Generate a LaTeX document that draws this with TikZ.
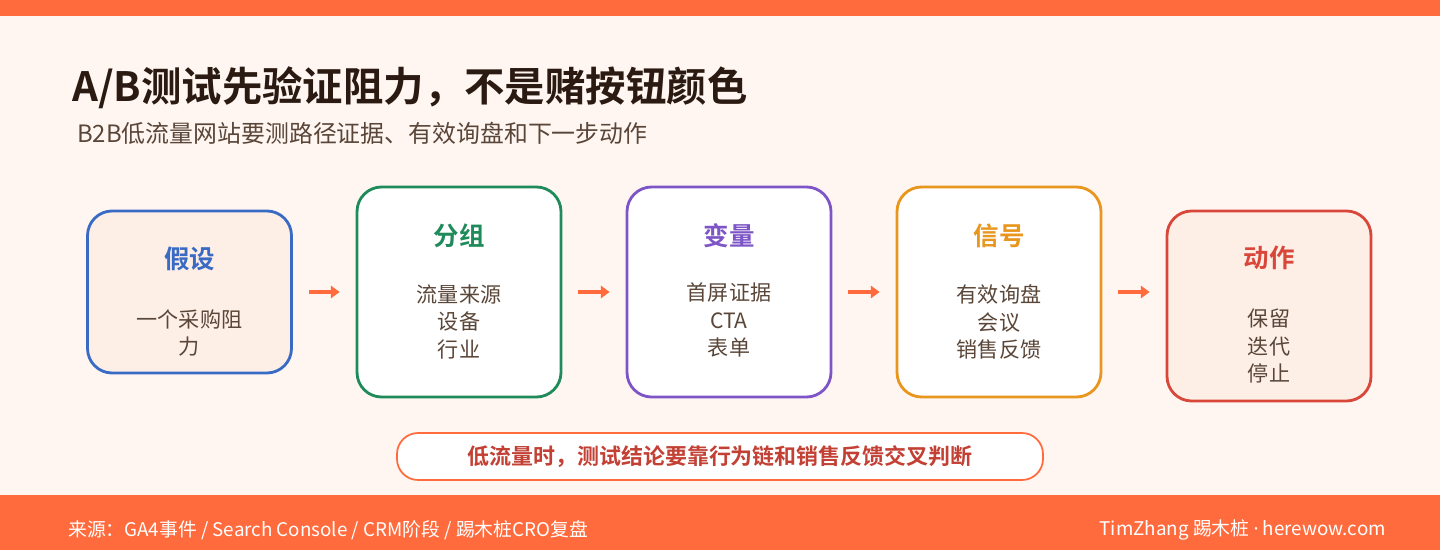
\documentclass[tikz,border=0pt]{standalone}
\usepackage{fontspec}
\setmainfont{Noto Sans CJK SC}[BoldFont={Noto Sans CJK SC Bold}]
\newfontfamily\latinfont{Noto Sans}
\usetikzlibrary{arrows.meta, positioning}
\definecolor{accent}{HTML}{FF6B3D}
\definecolor{paper}{HTML}{FFF6F2}
\definecolor{ink}{HTML}{2A1A12}
\definecolor{subink}{HTML}{5A4638}
\definecolor{cblue}{HTML}{3A6BC4}
\definecolor{cgreen}{HTML}{1F8A5A}
\definecolor{cpurple}{HTML}{7D55C7}
\definecolor{corange}{HTML}{E8961E}
\definecolor{cred}{HTML}{D9473A}
\definecolor{peach}{HTML}{FDEEE6}
\tikzset{
  stage/.style={draw=#1, line width=1.6pt, rounded corners=14pt, fill=white,
    minimum width=204*0.02cm, minimum height=210*0.02cm},
  head/.style={font=\bfseries\fontsize{14.5}{17}\selectfont, text=#1},
  body/.style={font=\fontsize{12}{15.5}\selectfont, text=subink, align=center},
  flow/.style={-{Triangle[length=5pt,width=7pt]}, accent, line width=2.2pt}
}
\begin{document}
\begin{tikzpicture}[x=0.02cm, y=-0.02cm]
\useasboundingbox (0,0) rectangle (1440,550);
\fill[paper] (0,0) rectangle (1440,550);
\fill[accent] (0,0) rectangle (1440,16);
\fill[accent] (0,495) rectangle (1440,550);

% Titles
\node[anchor=west, text=ink, font=\bfseries\fontsize{23}{27}\selectfont] (title) at (66,88) {A/B测试先验证阻力，不是赌按钮颜色};
\node[anchor=west, text=subink, font=\fontsize{13.6}{16}\selectfont] (subtitle) at (71,133) {B2B低流量网站要测路径证据、有效询盘和下一步动作};

% Stages
\node[stage=cblue, fill=peach, minimum height=162*0.02cm] (s1) at (189.5,292) {};
\node[stage=cgreen] (s2) at (459,292) {};
\node[stage=cpurple] (s3) at (729,292) {};
\node[stage=corange] (s4) at (999,292) {};
\node[stage=cred, fill=peach, minimum height=190*0.02cm] (s5) at (1269,306) {};

\node[head=cblue] (h1) at (189.5,259) {假设};
\node[body] (t1) at (189.5,333) {一个采购阻\\力};
\node[head=cgreen] (h2) at (459,236) {分组};
\node[body] (t2) at (459,322) {流量来源\\设备\\行业};
\node[head=cpurple] (h3) at (729,236) {变量};
\node[body] (t3) at (729,320) {首屏证据\\CTA\\表单};
\node[head=corange] (h4) at (999,236) {信号};
\node[body] (t4) at (999,322) {有效询盘\\会议\\销售反馈};
\node[head=cred] (h5) at (1269,258) {动作};
\node[body] (t5) at (1269,346) {保留\\迭代\\停止};

% Arrows
\foreach \a/\b in {s1/s2, s2/s3, s3/s4, s4/s5} {
  \coordinate (\a out) at ([xshift=16*0.02cm]\a.east |- 0,292);
  \coordinate (\b in) at ([xshift=-16*0.02cm]\b.west |- 0,292);
  \draw[flow] (\a out) -- (\b in);
}

% Callout
\node[draw=accent, line width=1pt, rounded corners=12pt, fill=white,
  minimum width=646*0.02cm, minimum height=47*0.02cm,
  text=cred!90!black, font=\bfseries\fontsize{12.5}{15}\selectfont] (note) at (720,456.5)
  {低流量时，测试结论要靠行为链和销售反馈交叉判断};

% Footer
\node[anchor=west, text=white, font=\fontsize{10.7}{12}\selectfont] (src) at (62,530) {来源：GA4事件 / Search Console / CRM阶段 / 踢木桩CRO复盘};
\node[anchor=east, text=white, font=\fontsize{10.7}{12}\selectfont] (brand) at (1392,530) {TimZhang 踢木桩 {\latinfont·} herewow.com};
\end{tikzpicture}
\end{document}
